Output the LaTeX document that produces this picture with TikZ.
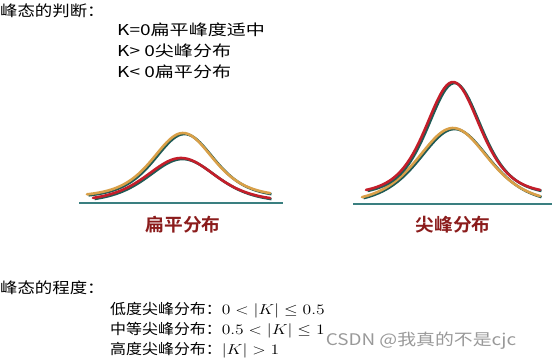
\documentclass[tikz,border=0pt]{standalone}
\usepackage{fontspec}
\usepackage{graphicx}
\setmainfont{Noto Sans CJK SC}
\newfontfamily\headfont[FakeStretch=1.16]{Noto Sans CJK SC}
\newfontfamily\rulefont[FakeStretch=1.27]{Noto Sans CJK SC}
\newfontfamily\degfont[FakeStretch=1.1]{Noto Sans CJK SC}
\newfontfamily\tagfont[FakeStretch=1.04]{Noto Sans CJK SC Bold}
\newfontfamily\markfont[FakeStretch=1.18]{Noto Sans CJK SC}
\newcommand{\wmath}[1]{\scalebox{1.22}[1]{$#1$}}
\definecolor{axisteal}{HTML}{3A7F80}
\definecolor{shadeteal}{HTML}{1F5A55}
\definecolor{tan}{HTML}{D9A048}
\definecolor{curvered}{HTML}{C41E2A}
\definecolor{tagred}{HTML}{8B1C1C}
% bell curve: base - h/(1+(d/a)^2)^3
\newcommand{\bell}[5]{plot[smooth,domain=#5,samples=70]
  (\x,{#2-#3/pow(1+pow((\x-#1)/#4,2),3)})}
\begin{document}
\begin{tikzpicture}[x=1pt,y=-1pt,
  head/.style={anchor=west,inner sep=0pt,font=\headfont\fontsize{15}{15}\selectfont},
  rule/.style={anchor=west,inner sep=0pt,font=\rulefont\fontsize{15}{15}\selectfont},
  degree/.style={anchor=west,inner sep=0pt,font=\degfont\fontsize{14.5}{15}\selectfont},
  tag/.style={inner sep=0pt,text=tagred,font=\tagfont\fontsize{18}{18}\selectfont},
  axisline/.style={axisteal,line width=1.5pt},
  shade/.style={shadeteal,line width=2.6pt,shift={(1.5,1)}},
  curve/.style={line width=2.6pt,line cap=round}]
\useasboundingbox (0,0) rectangle (552,364);
\node[head] (judge) at (0,11) {峰态的判断：};
\node[rule] (flat0) at (117,30) {K=0扁平峰度适中};
\node[rule] (peak) at (117,51) {K> 0尖峰分布};
\node[rule] (flat) at (117,72) {K< 0扁平分布};
% left chart
\draw[axisline] (79,203) -- (283,203);
\draw[shade] \bell{183}{197}{64}{70}{87:270};
\draw[curve,tan] \bell{183}{197}{64}{70}{87:270};
\draw[shade] \bell{181}{202}{44}{80}{93:270};
\draw[curve,curvered] \bell{181}{202}{44}{80}{93:270};
\node[tag] (flattag) at (183,225) {扁平分布};
% right chart
\draw[axisline] (353,204) -- (552,204);
\draw[shade] \bell{453}{204}{76}{82}{362:540};
\draw[curve,tan] \bell{453}{204}{76}{82}{362:540};
\draw[shade] \bell{453}{194.5}{112.5}{63}{366:540};
\draw[curve,curvered] \bell{453}{194.5}{112.5}{63}{366:540};
\node[tag] (peaktag) at (453,225) {尖峰分布};
% degree
\node[head] (level) at (0,288) {峰态的程度：};
\node[degree] (low) at (110,310) {低度尖峰分布：\wmath{0<|K|\le 0.5}};
\node[degree] (mid) at (110,330) {中等尖峰分布：\wmath{0.5<|K|\le 1}};
\node[degree] (high) at (110,350) {高度尖峰分布：\wmath{|K|>1}};
\node[text=black!40,inner sep=0pt,font=\markfont\fontsize{16}{16}\selectfont] (mark) at (421,341) {CSDN @我真的不是cjc};
\end{tikzpicture}
\end{document}
